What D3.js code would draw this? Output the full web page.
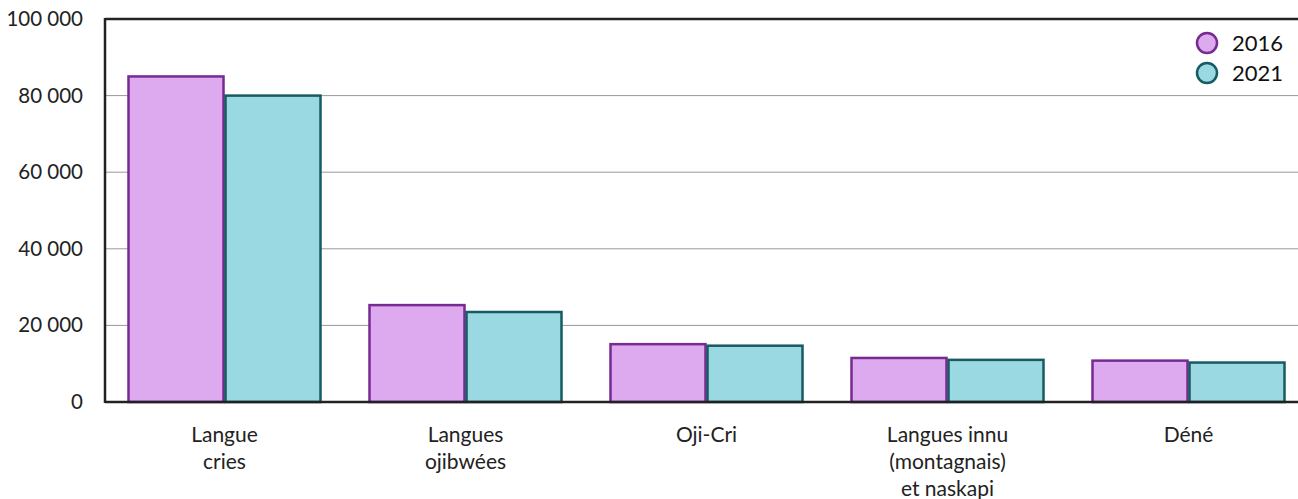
<!DOCTYPE html>
<html><head><meta charset="utf-8">
<script src="https://cdn.jsdelivr.net/npm/d3@7"></script>
<style>body{margin:0;background:#fff}svg{display:block;font-family:"Source Sans Pro",Lato,"Open Sans",sans-serif}</style>
</head><body><svg id="c" width="1298" height="499"></svg>
<script>
const categories = [["Langue","cries"],["Langues","ojibwées"],["Oji-Cri"],["Langues innu","(montagnais)","et naskapi"],["Déné"]];
const series = ["2016","2021"];
const values2016 = [85000, 25300, 15100, 11500, 10800];
const values2021 = [80000, 23500, 14700, 11000, 10300];
const yTicks = [0, 20000, 40000, 60000, 80000, 100000];
const fills = ["#dda9ef", "#9ad9e2"];
const strokes = ["#772a91", "#175a62"];

const svg = d3.select("#c");
const L = 105, R = 1298, T = 19, B = 402;
const y = d3.scaleLinear().domain([0, 100000]).range([B, T]);
const x = d3.scaleBand().domain(d3.range(categories.length)).range([104, 1309]).paddingInner(0.195).paddingOuter(0.0975);
const xs = d3.scaleBand().domain(series).range([0, x.bandwidth()]);
const fmt = v => d3.format(",")(v).replace(/,/g, " ");

// grid
svg.append("g").selectAll("line").data(yTicks.filter(d => d > 0 && d < 100000)).join("line")
  .attr("x1", L).attr("x2", R).attr("y1", d => y(d)).attr("y2", d => y(d))
  .attr("stroke", "#999").attr("stroke-width", 1);

// y axis labels
const yAxis = d3.axisLeft(y).tickValues(yTicks).tickFormat(fmt).tickSize(0).tickPadding(0);
const ga = svg.append("g").attr("transform", `translate(83,0)`).call(yAxis);
ga.select(".domain").remove();
ga.selectAll("text").attr("font-size", 20.5).attr("fill", "#222").attr("font-family", '"Source Sans Pro",Lato,"Open Sans",sans-serif');

// bars
const data = series.map((s, i) => ({s, i, vals: i === 0 ? values2016 : values2021}));
data.forEach(d => {
  svg.append("g").selectAll("rect").data(d.vals).join("rect")
    .attr("x", (v, j) => x(j) + xs(d.s) + 1)
    .attr("width", xs.bandwidth() - 2)
    .attr("y", v => y(v))
    .attr("height", v => B - y(v))
    .attr("fill", fills[d.i]).attr("stroke", strokes[d.i]).attr("stroke-width", 2.5);
});

// frame
svg.append("line").attr("x1", L).attr("x2", R).attr("y1", T).attr("y2", T).attr("stroke", "#222").attr("stroke-width", 2.5);
svg.append("line").attr("x1", L).attr("x2", L).attr("y1", T - 1).attr("y2", B + 1).attr("stroke", "#222").attr("stroke-width", 2.5);
svg.append("line").attr("x1", L).attr("x2", R).attr("y1", B).attr("y2", B).attr("stroke", "#222").attr("stroke-width", 2.5);

// x labels
const xl = svg.append("g").selectAll("text").data(categories).join("text")
  .attr("x", (d, j) => x(j) + x.bandwidth() / 2).attr("y", 442)
  .attr("text-anchor", "middle").attr("font-size", 21).attr("fill", "#222");
xl.each(function(d) {
  d3.select(this).selectAll("tspan").data(d).join("tspan")
    .attr("x", d3.select(this).attr("x")).attr("dy", (t, k) => k === 0 ? 0 : 27).text(t => t);
});

// legend
const lg = svg.append("g").selectAll("g").data(series).join("g")
  .attr("transform", (d, i) => `translate(1207,${43 + i * 30})`);
lg.append("circle").attr("r", 10).attr("fill", (d, i) => fills[i]).attr("stroke", (d, i) => strokes[i]).attr("stroke-width", 2.5);
lg.append("text").attr("x", 25).attr("y", 8).attr("font-size", 22).attr("fill", "#111").text(d => d);
</script></body></html>
